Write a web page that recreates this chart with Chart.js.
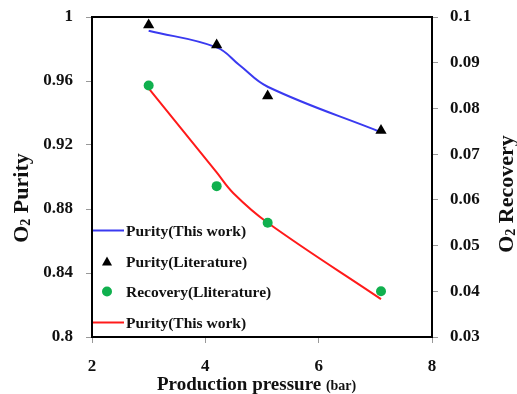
<!DOCTYPE html>
<html>
<head>
<meta charset="utf-8">
<script src="https://cdn.jsdelivr.net/npm/chart.js@4/dist/chart.umd.min.js"></script>
<style>
  html, body { margin: 0; padding: 0; background: #fff; }
  #wrap { width: 517px; height: 394px; position: relative; }
</style>
</head>
<body>
<div id="wrap"><canvas id="c" width="517" height="394"></canvas></div>
<script>
// Literature measurements
const pressureLit = [3, 4.2, 5.1, 7.1];
const purityLit = [0.995, 0.9825, 0.9506, 0.929];
const recoveryLit = [0.085, 0.063, 0.055, 0.040];

// Model results (this work)
const pressurePurityModel = [3, 4.2, 4.6, 5.1, 7.1];
const purityModel = [0.9914, 0.981, 0.970, 0.9564, 0.928];
const pressureRecoveryModel = [3, 4.2, 4.5, 5.1, 7.1];
const recoveryModel = [0.0844, 0.066, 0.0614, 0.055, 0.0383];

// Axis ranges and tick labels
const xTicks = [2, 4, 6, 8];
const purityTicks = [0.8, 0.84, 0.88, 0.92, 0.96, 1];
const recoveryTicks = [0.03, 0.04, 0.05, 0.06, 0.07, 0.08, 0.09, 0.1];

const labels = ['Purity(This work)', 'Purity(Literature)', 'Recovery(Lliterature)', 'Purity(This work)'];

const BLUE = '#3a3af0';
const RED = '#ff1a1a';
const GREEN = '#10b04e';
const SERIF = '"Liberation Serif", "Times New Roman", serif';

const pts = (xs, ys) => xs.map((x, i) => ({ x, y: ys[i] }));

function fmtPurity(v) {
  if (Math.abs(v - 1) < 1e-9) return '1';
  if (Math.abs(v - 0.8) < 1e-9) return '0.8';
  return v.toFixed(2);
}
function fmtRecovery(v) {
  if (Math.abs(v - 0.1) < 1e-9) return '0.1';
  return v.toFixed(2);
}
function noOverflow(s) {
  s.paddingTop = 0; s.paddingBottom = 0; s.paddingLeft = 0; s.paddingRight = 0;
}

// Frame, axis titles and in-plot legend
const decorations = {
  id: 'decorations',
  afterDraw(chart) {
    const ctx = chart.ctx;
    const a = chart.chartArea;
    ctx.save();
    ctx.strokeStyle = '#000';
    ctx.lineWidth = 2;
    ctx.strokeRect(a.left, a.top, a.right - a.left, a.bottom - a.top);

    ctx.fillStyle = '#111';
    ctx.textBaseline = 'alphabetic';

    // x title
    const t1 = 'Production pressure ';
    const t2 = '(bar)';
    ctx.font = 'bold 19px ' + SERIF;
    const w1 = ctx.measureText(t1).width;
    const x0 = 157;
    ctx.textAlign = 'left';
    ctx.fillText(t1, x0, 390);
    ctx.font = 'bold 14px ' + SERIF;
    ctx.fillText(t2, x0 + w1, 390);

    // rotated y titles with subscript 2
    function rotTitle(xc, yc, rest, size) {
      ctx.save();
      ctx.translate(xc, yc);
      ctx.rotate(-Math.PI / 2);
      const sub = Math.round(size * 0.65);
      ctx.font = 'bold ' + size + 'px ' + SERIF;
      const wO = ctx.measureText('O').width;
      const wr = ctx.measureText(rest).width;
      ctx.font = 'bold ' + sub + 'px ' + SERIF;
      const ws = ctx.measureText('2').width;
      const total = wO + ws + wr;
      const x = -total / 2;
      ctx.textAlign = 'left';
      ctx.font = 'bold ' + size + 'px ' + SERIF;
      ctx.fillText('O', x, size * 0.35);
      ctx.font = 'bold ' + sub + 'px ' + SERIF;
      ctx.fillText('2', x + wO, size * 0.35 + 2);
      ctx.font = 'bold ' + size + 'px ' + SERIF;
      ctx.fillText(rest, x + wO + ws, size * 0.35);
      ctx.restore();
    }
    rotTitle(20, 198, ' Purity', 22);
    rotTitle(505, 194, ' Recovery', 22);

    // legend
    const ds = chart.data.datasets;
    const rows = [230.5, 261.5, 291.5, 322.5];
    const lx = a.left + 1, lw = 31, tx = 126;
    ds.forEach((d, i) => {
      const y = rows[i];
      if (d.showLine) {
        ctx.strokeStyle = d.borderColor;
        ctx.lineWidth = 2;
        ctx.beginPath();
        ctx.moveTo(lx, y);
        ctx.lineTo(lx + lw, y);
        ctx.stroke();
      } else if (d.pointStyle === 'triangle') {
        ctx.fillStyle = d.pointBackgroundColor;
        ctx.beginPath();
        ctx.moveTo(107, y - 5);
        ctx.lineTo(112, y + 4);
        ctx.lineTo(102, y + 4);
        ctx.closePath();
        ctx.fill();
      } else {
        ctx.fillStyle = d.pointBackgroundColor;
        ctx.beginPath();
        ctx.arc(107, y, 5, 0, Math.PI * 2);
        ctx.fill();
      }
      ctx.fillStyle = '#111';
      ctx.font = 'bold 15.5px ' + SERIF;
      ctx.textAlign = 'left';
      ctx.textBaseline = 'middle';
      ctx.fillText(d.label, tx, y + 1);
    });
    ctx.restore();
  }
};

new Chart(document.getElementById('c'), {
  type: 'scatter',
  data: {
    datasets: [
      {
        label: labels[0],
        data: pts(pressurePurityModel, purityModel),
        yAxisID: 'y',
        showLine: true,
        borderColor: BLUE,
        borderWidth: 2,
        pointRadius: 0,
        tension: 0.4,
        order: 2
      },
      {
        label: labels[1],
        data: pts(pressureLit, purityLit),
        yAxisID: 'y',
        showLine: false,
        pointStyle: 'triangle',
        pointRadius: 6.5,
        pointBackgroundColor: '#000',
        pointBorderColor: '#000',
        pointBorderWidth: 0,
        order: 0
      },
      {
        label: labels[2],
        data: pts(pressureLit, recoveryLit),
        yAxisID: 'y1',
        showLine: false,
        pointStyle: 'circle',
        pointRadius: 5,
        pointBackgroundColor: GREEN,
        pointBorderColor: GREEN,
        pointBorderWidth: 0,
        order: 0
      },
      {
        label: labels[3],
        data: pts(pressureRecoveryModel, recoveryModel),
        yAxisID: 'y1',
        showLine: true,
        borderColor: RED,
        borderWidth: 2,
        pointRadius: 0,
        tension: 0.4,
        order: 2
      }
    ]
  },
  options: {
    responsive: false,
    animation: false,
    layout: { padding: { top: 17, left: 0, right: 0, bottom: 0 } },
    plugins: { legend: { display: false }, tooltip: { enabled: false } },
    scales: {
      x: {
        type: 'linear',
        min: xTicks[0],
        max: xTicks[xTicks.length - 1],
        afterBuildTicks(s) { s.ticks = xTicks.map(v => ({ value: v })); },
        afterFit(s) { s.height = 57; noOverflow(s); },
        border: { display: true, color: '#000', width: 2 },
        grid: { drawOnChartArea: false, drawTicks: true, tickLength: 6, color: '#999' },
        ticks: {
          color: '#111',
          font: { family: SERIF, size: 17, weight: 'bold' },
          padding: 13,
          maxRotation: 0,
          callback: v => String(v)
        }
      },
      y: {
        position: 'left',
        min: purityTicks[0],
        max: purityTicks[purityTicks.length - 1],
        afterBuildTicks(s) { s.ticks = purityTicks.map(v => ({ value: v })); },
        afterFit(s) { s.width = 92; noOverflow(s); },
        border: { display: true, color: '#000', width: 2 },
        grid: { drawOnChartArea: false, drawTicks: true, tickLength: 6, color: '#999' },
        ticks: {
          color: '#111',
          font: { family: SERIF, size: 17, weight: 'bold' },
          padding: 13,
          callback: v => fmtPurity(v)
        }
      },
      y1: {
        position: 'right',
        min: recoveryTicks[0],
        max: recoveryTicks[recoveryTicks.length - 1],
        afterBuildTicks(s) { s.ticks = recoveryTicks.map(v => ({ value: v })); },
        afterFit(s) { s.width = 85; noOverflow(s); },
        border: { display: true, color: '#000', width: 2 },
        grid: { drawOnChartArea: false, drawTicks: true, tickLength: 6, color: '#999' },
        ticks: {
          color: '#111',
          font: { family: SERIF, size: 17, weight: 'bold' },
          padding: 12,
          callback: v => fmtRecovery(v)
        }
      }
    }
  },
  plugins: [decorations]
});
</script>
</body>
</html>
